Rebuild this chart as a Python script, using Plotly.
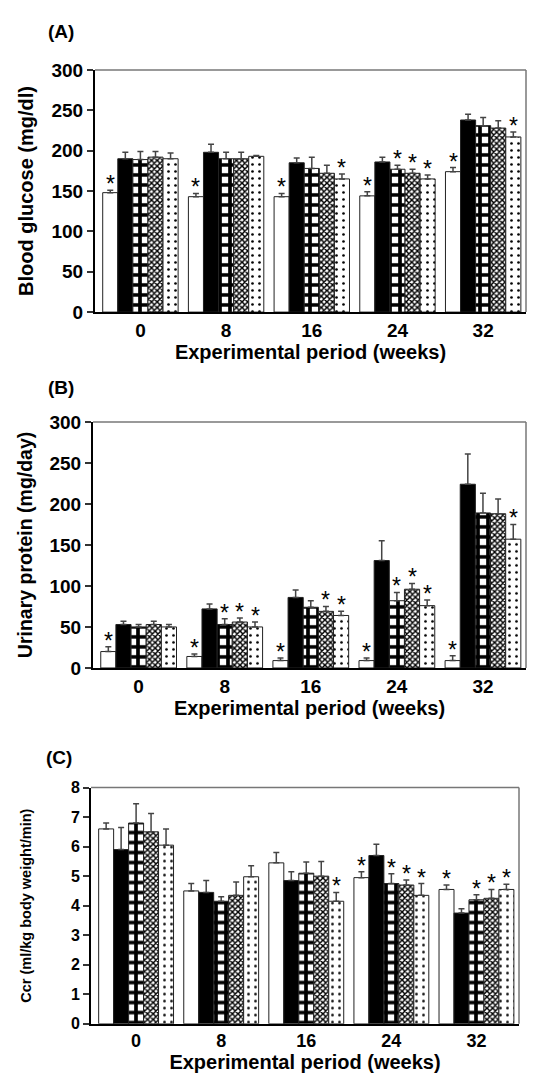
import plotly.graph_objects as go
import numpy as np

weeks = ["0", "8", "16", "24", "32"]

# Panel A: Blood glucose (mg/dl)
a_vals = [
    [148, 143, 143, 144, 174],
    [190, 198, 185, 186, 238],
    [189, 190, 178, 177, 231],
    [192, 190, 172, 172, 228],
    [190, 193, 165, 165, 217],
]
a_errs = [
    [3, 4, 4, 5, 5],
    [8, 10, 6, 6, 7],
    [10, 8, 14, 5, 10],
    [7, 8, 10, 5, 9],
    [7, 1, 6, 5, 6],
]
a_star = [
    [1, 1, 1, 1, 1],
    [0, 0, 0, 0, 0],
    [0, 0, 0, 1, 0],
    [0, 0, 0, 1, 0],
    [0, 0, 1, 1, 1],
]

# Panel B: Urinary protein (mg/day)
b_vals = [
    [20, 14, 9, 9, 9],
    [53, 72, 86, 131, 224],
    [50, 53, 74, 82, 189],
    [53, 56, 69, 96, 188],
    [50, 50, 64, 76, 157],
]
b_errs = [
    [6, 3, 3, 3, 6],
    [4, 6, 9, 24, 37],
    [3, 7, 8, 10, 24],
    [4, 5, 6, 7, 18],
    [3, 6, 5, 7, 18],
]
b_star = [
    [1, 1, 1, 1, 1],
    [0, 0, 0, 0, 0],
    [0, 1, 0, 1, 0],
    [0, 1, 1, 1, 0],
    [0, 1, 1, 1, 1],
]

# Panel C: Ccr (ml/kg body weight/min)
c_vals = [
    [6.6, 4.5, 5.45, 4.95, 4.55],
    [5.9, 4.45, 4.85, 5.7, 3.75],
    [6.8, 4.15, 5.1, 4.75, 4.2],
    [6.5, 4.35, 5.0, 4.7, 4.25],
    [6.05, 4.98, 4.15, 4.35, 4.55],
]
c_errs = [
    [0.2, 0.25, 0.35, 0.2, 0.15],
    [0.75, 0.4, 0.3, 0.38, 0.15],
    [0.65, 0.15, 0.38, 0.33, 0.17],
    [0.62, 0.45, 0.5, 0.17, 0.3],
    [0.55, 0.37, 0.3, 0.4, 0.18],
]
c_star = [
    [0, 0, 0, 1, 1],
    [0, 0, 0, 0, 0],
    [0, 0, 0, 1, 1],
    [0, 0, 0, 1, 1],
    [0, 0, 1, 1, 1],
]

y_titles = ["Blood glucose (mg/dl)", "Urinary protein (mg/day)", "Ccr (ml/kg body weight/min)"]
panel_labels = ["(A)", "(B)", "(C)"]
x_title = "Experimental period (weeks)"

# page body keeps its default 8px margin, so the figure is 16px smaller than the window
OFF = 8
W, H = 535 - 2 * OFF, 1084 - 2 * OFF
FONT = "Liberation Sans, Arial, sans-serif"
BAR_W = 0.176

styles = [
    dict(color="white", pattern=None),
    dict(color="black", pattern=None),
    dict(color="white", pattern=dict(shape="+", size=10, solidity=0.6, fgcolor="black", bgcolor="white", fillmode="replace")),
    dict(color="white", pattern=dict(shape="x", size=4, solidity=0.6, fgcolor="black", bgcolor="white", fillmode="replace")),
    dict(color="white", pattern=dict(shape=".", size=7, solidity=0.12, fgcolor="black", bgcolor="white", fillmode="replace")),
]

# window pixel boxes: (left, right, top, bottom)
boxes = [(95, 526, 61, 308), (93, 526, 420, 671), (91, 519, 793, 1034)]
yranges = [[0, 300], [0, 300], [0, 8]]
ydticks = [50, 50, 1]
ytick_size = [19, 19, 16]
ytitle_size = [20, 19.5, 14.5]
ytitle_standoff = [12, 12, 36]

panels = [(a_vals, a_errs, a_star), (b_vals, b_errs, b_star), (c_vals, c_errs, c_star)]

fig = go.Figure()
layout = dict(
    width=W, height=H, margin=dict(l=0, r=0, t=0, b=0),
    paper_bgcolor="white", plot_bgcolor="white",
    barmode="overlay", showlegend=False,
    font=dict(family=FONT, color="black"),
)
shapes = []
annotations = []
xg = np.arange(len(weeks))


def px_x(v):
    return min(1.0, max(0.0, (v - OFF) / W))


def px_y(v):
    return min(1.0, max(0.0, (H - (v - OFF)) / H))


for p, (vals, errs, stars) in enumerate(panels):
    sfx = "" if p == 0 else str(p + 1)
    xa, ya = "x" + sfx, "y" + sfx
    for j in range(5):
        st = styles[j]
        marker = dict(color=st["color"], line=dict(color="#222", width=1))
        if st["pattern"]:
            marker["pattern"] = st["pattern"]
        fig.add_trace(go.Bar(
            x=xg + (j - 2) * BAR_W, y=vals[j], width=BAR_W,
            marker=marker, xaxis=xa, yaxis=ya,
            error_y=dict(type="data", array=errs[j], arrayminus=[0] * 5, symmetric=False,
                         color="#444", thickness=1.5, width=3),
        ))
        for i in range(5):
            if stars[j][i]:
                annotations.append(dict(
                    text="*", x=xg[i] + (j - 2) * BAR_W, y=vals[j][i] + errs[j][i],
                    xref=xa, yref=ya, xanchor="center", yanchor="bottom", yshift=-9,
                    showarrow=False, font=dict(family=FONT, size=23, color="black"),
                ))
    l, r, t, b = boxes[p]
    layout["xaxis" + sfx] = dict(
        domain=[px_x(l), px_x(r)], range=[-0.53, 4.5], anchor=ya,
        tickvals=list(xg), ticktext=weeks, ticks="", showgrid=False, zeroline=False,
        showline=True, linecolor="black", linewidth=2,
        tickfont=dict(family=FONT, size=19 if p < 2 else 18, color="black", weight="bold"),
        title=dict(text=x_title, standoff=0, font=dict(family=FONT, size=20, color="black", weight="bold")),
    )
    layout["yaxis" + sfx] = dict(
        domain=[px_y(b), px_y(t)], range=yranges[p], anchor=xa,
        dtick=ydticks[p], tick0=0, ticks="outside", ticklen=6, tickwidth=1.5, tickcolor="#333",
        showgrid=False, zeroline=False, showline=True, linecolor="black", linewidth=2,
        tickfont=dict(family=FONT, size=ytick_size[p], color="black", weight="bold"),
        title=dict(text=y_titles[p], standoff=ytitle_standoff[p],
                   font=dict(family=FONT, size=ytitle_size[p], color="black", weight="bold")),
    )
    # top and right frame lines
    shapes.append(dict(type="line", xref=xa + " domain", yref=ya + " domain", x0=0, x1=1, y0=1, y1=1,
                       line=dict(color="#777", width=1.5)))
    shapes.append(dict(type="line", xref=xa + " domain", yref=ya + " domain", x0=1, x1=1, y0=0, y1=1,
                       line=dict(color="#777", width=1.5)))

label_pos = [(46, 22), (46, 385), (44, 762)]
for p in range(3):
    x, y = label_pos[p]
    annotations.append(dict(text=panel_labels[p], xref="paper", yref="paper", x=px_x(x), y=px_y(y),
                            xanchor="left", yanchor="middle", showarrow=False,
                            font=dict(family=FONT, size=19, color="black", weight="bold")))

layout["shapes"] = shapes
layout["annotations"] = annotations
fig.update_layout(**layout)
fig.write_html("out.html", config={"displayModeBar": False})
